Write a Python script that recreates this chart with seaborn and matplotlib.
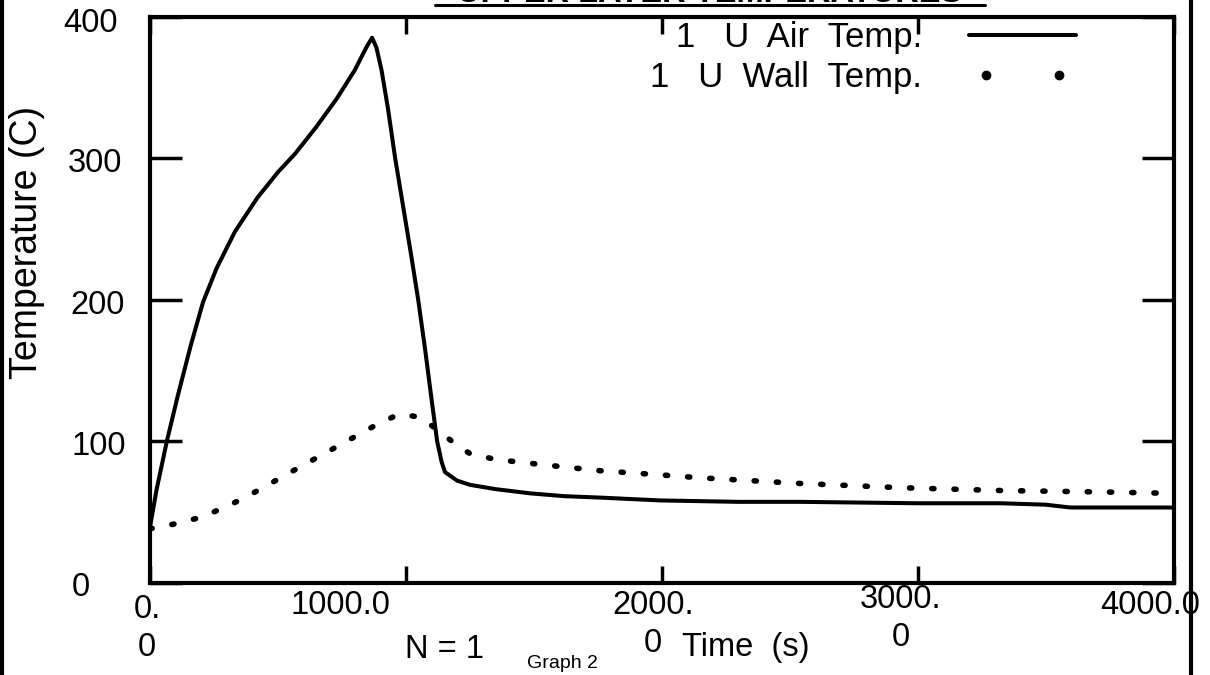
import numpy as np
import pandas as pd
import matplotlib
matplotlib.use("Agg")
import matplotlib.pyplot as plt
import seaborn as sns
from matplotlib.lines import Line2D
from matplotlib.legend_handler import HandlerLine2D
from matplotlib.transforms import ScaledTranslation

# ---------------- data ----------------
time_air = [0, 25, 66, 110, 160, 207, 260, 332, 420, 500, 567, 650, 730,
            800, 845, 868, 885, 905, 930, 958, 990, 1020, 1048, 1075, 1100,
            1122, 1140, 1153, 1200, 1251, 1350, 1486, 1620, 1760, 1994,
            2300, 2542, 3000, 3324, 3500, 3597, 4000]
temp_air = [39, 65, 100, 133, 168, 198, 222, 248, 272, 290, 303, 322, 342,
            362, 378, 385, 378, 362, 335, 300, 265, 232, 200, 165, 130,
            100, 85, 78, 72, 69, 66, 63, 61, 60, 58,
            57, 57, 56, 56, 55, 53, 53]

time_wall = [0, 31, 113, 196, 278, 360, 442, 520, 600, 700, 800, 900, 975,
             1050, 1100, 1150, 1200, 1251, 1350, 1447, 1600, 1760, 2000,
             2150, 2541, 2933, 3324, 3715, 4000]
temp_wall = [38, 39, 42, 46, 52, 59, 67, 75, 83, 93, 103, 113, 119,
             117, 111, 104, 97, 91, 87, 85, 82, 79, 76,
             74, 70, 67, 65, 64, 63]

y_ticks = [0, 100, 200, 300, 400]
y_ticklabels = ["0", "100", "200", "300", "400"]
x_ticks = [0, 1000, 2000, 3000, 4000]
x_ticklabels = ["0.\n0", "1000.0", "2000.\n0", "3000.\n0", "4000.0"]

series_names = ["1   U  Air  Temp.", "1   U  Wall  Temp."]
y_label = "Temperature (C)"
x_label = "Time  (s)"
title_text = "UPPER LAYER TEMPERATURES"

# ---------------- style ----------------
sns.set_theme(style="white")
plt.rcParams["font.family"] = ["Liberation Sans", "DejaVu Sans"]
plt.rcParams["text.color"] = "black"
plt.rcParams["axes.labelcolor"] = "black"
plt.rcParams["xtick.color"] = "black"
plt.rcParams["ytick.color"] = "black"

W, H = 1210, 675
AX_L, AX_R, AX_T, AX_B = 150, 1173.5, 16.5, 582.5
fig = plt.figure(figsize=(W / 100, H / 100), dpi=100)
ax = fig.add_axes([AX_L / W, 1 - AX_B / H, (AX_R - AX_L) / W, (AX_B - AX_T) / H])

df_air = pd.DataFrame({"t": time_air, "T": temp_air})
df_wall = pd.DataFrame({"t": time_wall, "T": temp_wall})

sns.lineplot(data=df_air, x="t", y="T", ax=ax, color="black", lw=2.9,
             solid_capstyle="round", solid_joinstyle="round")
sns.lineplot(data=df_wall, x="t", y="T", ax=ax, color="black", lw=4.0,
             linestyle=(0, (0.4, 3.6)), dash_capstyle="round")

ax.set_xlim(0, 4000)
ax.set_ylim(0, 400)
for s in ax.spines.values():
    s.set_visible(True)
    s.set_color("black")
    s.set_linewidth(3)

fs = 23.5
ax.set_yticks(y_ticks)
ax.set_yticklabels(y_ticklabels, fontsize=fs, ha="left")
ax.set_xticks(x_ticks)
ax.set_xticklabels(x_ticklabels, fontsize=fs, linespacing=1.3)
ax.tick_params(axis="y", direction="in", length=23, width=2.5, left=True,
               right=True, pad=61)
ax.tick_params(axis="x", direction="in", length=12, width=2.5, bottom=True,
               top=True, pad=7)

# individual label offsets (px) as in the scanned original
x_off = [(-3, -2), (-65, 2), (-9, 2), (-17, 8), (-23, 2)]
for lab, (dx, dy) in zip(ax.get_xticklabels(), x_off):
    lab.set_transform(lab.get_transform() +
                      ScaledTranslation(dx / 100, dy / 100, fig.dpi_scale_trans))
y_off = [(6, -2), (6, -2), (5, -3), (2, -2), (-2, -4)]
for lab, (dx, dy) in zip(ax.get_yticklabels(), y_off):
    lab.set_transform(lab.get_transform() +
                      ScaledTranslation(dx / 100, dy / 100, fig.dpi_scale_trans))

ax.set_ylabel(y_label, fontsize=27)
ax.yaxis.set_label_coords((45 - AX_L) / (AX_R - AX_L), (AX_B - 242) / (AX_B - AX_T))
ax.set_xlabel(x_label, fontsize=fs)
ax.xaxis.set_label_coords((746 - AX_L) / (AX_R - AX_L), -(632 - AX_B) / (AX_B - AX_T))

fig.text(445 / W, 1 - 649 / H, "N = 1", fontsize=fs, ha="center", va="center")
fig.text(562 / W, 1 - 663 / H, "Graph 2", fontsize=14, ha="center", va="center")

# legend
h_air = Line2D([], [], color="black", lw=2.9)
h_wall = Line2D([], [], color="black", lw=0, marker="o", markersize=6)
leg_fs = 25
ax.legend([h_air, h_wall], series_names, loc="upper left",
          bbox_to_anchor=((650 - AX_L) / (AX_R - AX_L), (AX_B - 21) / (AX_B - AX_T)),
          frameon=False, fontsize=leg_fs, markerfirst=False,
          handlelength=3.1, handletextpad=1.35, labelspacing=0.2,
          borderaxespad=0, borderpad=0,
          handler_map={h_wall: HandlerLine2D(numpoints=2, marker_pad=0.5)})

# title (cropped at the top edge in the scan) and border lines
fig.text(710 / W, 1 - 1.5 / H, title_text, fontsize=fs, fontweight="bold",
         ha="center", va="baseline")
fig.add_artist(Line2D([435 / W, 985 / W], [1 - 4.5 / H, 1 - 4.5 / H],
                      transform=fig.transFigure, color="black", lw=2.2))
fig.add_artist(Line2D([1.5 / W, 1.5 / W], [0, 1], transform=fig.transFigure,
                      color="black", lw=3))
fig.add_artist(Line2D([1191 / W, 1191 / W], [0, 1], transform=fig.transFigure,
                      color="black", lw=3))

fig.savefig("out.png", dpi=100)
